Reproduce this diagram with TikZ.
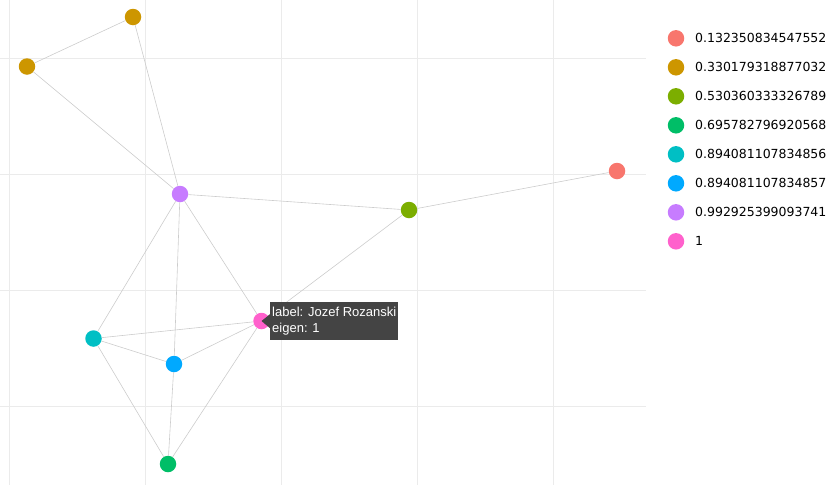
\documentclass[tikz,border=0pt]{standalone}
\usepackage{fontspec}
\setmainfont{DejaVu Sans}
\newfontfamily\tipfont{Liberation Sans}
\usepackage{xcolor}
\definecolor{eigA}{HTML}{F8766D}
\definecolor{eigB}{HTML}{CD9600}
\definecolor{eigC}{HTML}{7CAE00}
\definecolor{eigD}{HTML}{00BE67}
\definecolor{eigE}{HTML}{00BFC4}
\definecolor{eigF}{HTML}{00A9FF}
\definecolor{eigG}{HTML}{C77CFF}
\definecolor{eigH}{HTML}{FF61CC}
\definecolor{gridgray}{HTML}{EBEBEB}
\definecolor{tipgray}{HTML}{444444}

\begin{document}
\begin{tikzpicture}[x=1pt,y=-1pt,
  vert/.style={circle,inner sep=0pt,minimum size=16.5pt},
  link/.style={draw=black!20,line width=0.6pt},
  keytext/.style={anchor=west,inner sep=0pt,font=\fontsize{12.5}{15}\selectfont}]
\useasboundingbox (0,0) rectangle (835,485);
\draw[gridgray,line width=1pt] (0,58) -- (646,58);
\draw[gridgray,line width=1pt] (0,174) -- (646,174);
\draw[gridgray,line width=1pt] (0,290) -- (646,290);
\draw[gridgray,line width=1pt] (0,406) -- (646,406);
\draw[gridgray,line width=1pt] (9,0) -- (9,485);
\draw[gridgray,line width=1pt] (145,0) -- (145,485);
\draw[gridgray,line width=1pt] (281,0) -- (281,485);
\draw[gridgray,line width=1pt] (417,0) -- (417,485);
\draw[gridgray,line width=1pt] (553,0) -- (553,485);

\node[vert,fill=eigB] (bA) at (133,17) {};
\node[vert,fill=eigB] (bB) at (27,66.5) {};
\node[vert,fill=eigG] (pu) at (180,194) {};
\node[vert,fill=eigC] (ol) at (409,210) {};
\node[vert,fill=eigA] (rd) at (617,171) {};
\node[vert,fill=eigH] (jr) at (261.5,321) {};
\node[vert,fill=eigE] (cy) at (93.5,338.5) {};
\node[vert,fill=eigF] (bl) at (174,364) {};
\node[vert,fill=eigD] (gr) at (168,464) {};

\draw[link] (bA) -- (bB);
\draw[link] (bA) -- (pu);
\draw[link] (bB) -- (pu);
\draw[link] (pu) -- (ol);
\draw[link] (ol) -- (rd);
\draw[link] (ol) -- (jr);
\draw[link] (pu) -- (jr);
\draw[link] (pu) -- (cy);
\draw[link] (pu) -- (bl);
\draw[link] (cy) -- (jr);
\draw[link] (cy) -- (bl);
\draw[link] (bl) -- (jr);
\draw[link] (cy) -- (gr);
\draw[link] (bl) -- (gr);
\draw[link] (jr) -- (gr);

\node[fill=tipgray,text=white,anchor=north west,align=left,inner xsep=2pt,inner ysep=2pt,
  minimum width=127pt,minimum height=38pt,font=\tipfont\fontsize{13}{16.5}\selectfont]
  (tip) at (270,302) {label: Jozef Rozanski\\eigen: 1};
\fill[tipgray] ([yshift=7pt]tip.west) -- (jr.center) -- ([yshift=-7pt]tip.west) -- cycle;

\node[vert,fill=eigA] (kA) at (676,38.3) {};
\node[vert,fill=eigB] (kB) at (676,67.3) {};
\node[vert,fill=eigC] (kC) at (676,96.3) {};
\node[vert,fill=eigD] (kD) at (676,125.3) {};
\node[vert,fill=eigE] (kE) at (676,154.3) {};
\node[vert,fill=eigF] (kF) at (676,183.3) {};
\node[vert,fill=eigG] (kG) at (676,212.3) {};
\node[vert,fill=eigH] (kH) at (676,241.3) {};
\node[keytext] (tA) at (695,38.3) {0.132350834547552};
\node[keytext] (tB) at (695,67.3) {0.330179318877032};
\node[keytext] (tC) at (695,96.3) {0.530360333326789};
\node[keytext] (tD) at (695,125.3) {0.695782796920568};
\node[keytext] (tE) at (695,154.3) {0.894081107834856};
\node[keytext] (tF) at (695,183.3) {0.894081107834857};
\node[keytext] (tG) at (695,212.3) {0.992925399093741};
\node[keytext] (tH) at (695,241.3) {1};
\end{tikzpicture}
\end{document}
